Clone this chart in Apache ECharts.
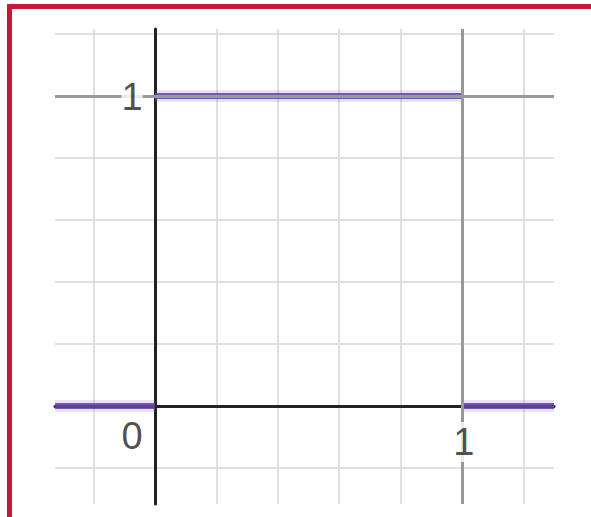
<!DOCTYPE html>
<html>
<head>
<meta charset="utf-8">
<script src="https://cdn.jsdelivr.net/npm/echarts@6/dist/echarts.min.js"></script>
<style>
  html, body { margin: 0; padding: 0; background: #fff; overflow: hidden; }
  #frame {
    position: absolute; left: 7px; top: 4px;
    width: 700px; height: 700px;
    border: 5px solid #c8173c; box-sizing: border-box;
  }
  #main { position: absolute; left: 0; top: 0; width: 591px; height: 517px; }
</style>
</head>
<body>
<div id="frame"></div>
<div id="main"></div>
<script>
// grid line positions (every 0.2 unit)
const gridTicks = [-0.2, 0, 0.2, 0.4, 0.6, 0.8, 1, 1.2];

// piecewise function: 0 left of 0, 1 on [0, 1], 0 right of 1
const segFrom = [-0.326, 0, 1];
const segTo = [0, 1, 1.30];
const segValue = [0, 1, 0];

// reference lines
const refX = [1];
const refY = [1];

// tick labels
const labelX = [0, 1, 0];
const labelY = [1, 0, 0];
const labelText = ['1', '1', '0'];
const labelOffset = [[-23, 1], [2, 36], [-23, 30]];

let chart = echarts.init(document.getElementById('main'), null, { renderer: 'svg' });

const purple = [];
for (let i = 0; i < segValue.length; i++) {
  const pts = [[segFrom[i], segValue[i]], [segTo[i], segValue[i]]];
  // soft halo
  purple.push({
    type: 'line',
    z: 3,
    silent: true,
    symbol: 'none',
    data: pts,
    lineStyle: { width: 12, color: 'rgba(140,110,200,0.2)', cap: 'butt' }
  });
  // core stroke
  purple.push({
    type: 'line',
    z: 4,
    silent: true,
    symbol: 'none',
    data: pts,
    lineStyle: { width: 6, color: 'rgba(98,66,165,0.85)', cap: 'butt' }
  });
}

const refLines = [];
refX.forEach(v => refLines.push({ xAxis: v }));
refY.forEach(v => refLines.push({ yAxis: v }));

chart.setOption({
  animation: false,
  grid: { left: 55, right: 37, top: 29, bottom: 13 },
  xAxis: {
    type: 'value',
    min: -0.326,
    max: 1.30,
    axisLine: { onZero: true, lineStyle: { color: '#222', width: 3 } },
    axisTick: { show: false, customValues: gridTicks },
    axisLabel: { show: false },
    splitLine: { lineStyle: { color: '#e0e0e0', width: 2 } }
  },
  yAxis: {
    type: 'value',
    min: -0.316,
    max: 1.216,
    axisLine: { onZero: true, lineStyle: { color: '#222', width: 3 } },
    axisTick: { show: false, customValues: gridTicks },
    axisLabel: { show: false },
    splitLine: { lineStyle: { color: '#e0e0e0', width: 2 } }
  },
  series: [
    {
      type: 'line',
      z: 1,
      silent: true,
      data: [],
      markLine: {
        silent: true,
        symbol: 'none',
        label: { show: false },
        lineStyle: { type: 'solid', color: '#999', width: 3 },
        data: refLines
      }
    },
    ...purple,
    {
      type: 'scatter',
      z: 10,
      silent: true,
      symbolSize: 0,
      data: labelText.map((t, i) => ({
        value: [labelX[i], labelY[i]],
        label: { offset: labelOffset[i] }
      })),
      label: {
        show: true,
        position: 'inside',
        formatter: p => labelText[p.dataIndex],
        fontFamily: 'Liberation Sans',
        fontSize: 38,
        color: '#222',
        backgroundColor: '#fff',
        padding: [1, 0]
      }
    }
  ]
});

window.addEventListener('resize', () => {
  chart.resize();
});
</script>
</body>
</html>
